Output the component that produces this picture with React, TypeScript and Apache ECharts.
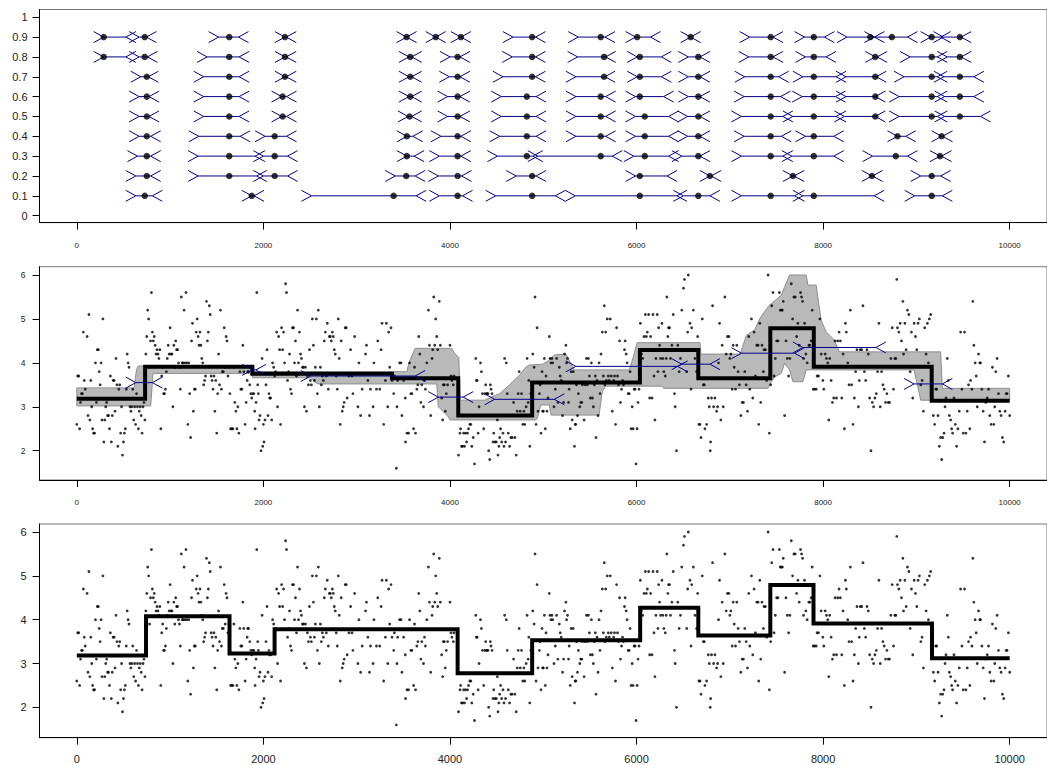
import React, { useEffect, useRef } from "react";
import * as echarts from "echarts";

const X_TICKS = [0, 2000, 4000, 6000, 8000, 10000];
const P_TICKS = [0, 0.1, 0.2, 0.3, 0.4, 0.5, 0.6, 0.7, 0.8, 0.9, 1];
const Y_TICKS = [2, 3, 4, 5, 6];

// Top panel: confidence intervals per probability level, [left, estimate, right]
const ciP90 = [[288,288,526],[668,728,746],[1520,1634,1733],[2231,2231,2245],[3535,3535,3535],[3847,3847,3847],[4117,4117,4117],[4675,4881,4917],[5375,5616,5662],[5990,6007,6150],[6580,6580,6580],[7213,7438,7463],[7801,7900,8014],[8256,8505,8550],[8550,8737,8904],[9153,9164,9260],[9290,9466,9480]];
const ciP80 = [[288,288,526],[668,728,757],[1396,1634,1740],[2231,2231,2245],[3560,3574,3590],[4000,4082,4107],[4668,4881,4917],[5368,5652,5669],[6007,6035,6266],[6555,6662,6680],[7203,7438,7463],[7811,7900,8032],[8559,8559,8580],[8932,9164,9224],[9331,9466,9480]];
const ciP70 = [[686,750,767],[1360,1634,1740],[2231,2231,2245],[3560,3574,3590],[3993,4082,4107],[4568,4881,4917],[5350,5652,5662],[6007,6035,6266],[6555,6662,6680],[7160,7438,7523],[7783,7900,8139],[8246,8559,8570],[8868,9164,9224],[9295,9466,9616]];
const ciP60 = [[668,750,774],[1360,1634,1740],[2195,2206,2248],[3560,3574,3590],[3975,4082,4107],[4550,4824,4923],[5350,5616,5669],[5989,6035,6291],[6555,6662,6680],[7153,7438,7544],[7776,7900,8132],[8246,8559,8560],[8815,9164,9224],[9303,9466,9616]];
const ciP50 = [[668,750,774],[1360,1634,1740],[2195,2206,2248],[3550,3567,3590],[3975,4082,4107],[4550,4824,4923],[5350,5616,5669],[5989,6088,6344],[6548,6662,6680],[7124,7438,7569],[7676,7900,8139],[8228,8559,8560],[8815,9164,9224],[9303,9466,9687]];
const ciP40 = [[668,750,792],[1307,1634,1751],[2018,2121,2248],[3538,3538,3602],[3904,4082,4117],[4533,4824,4923],[5350,5616,5669],[5989,6088,6344],[6548,6662,6680],[7153,7438,7552],[7811,7900,8114],[8797,8797,8886],[9270,9270,9280]];
const ciP30 = [[650,750,792],[1300,1634,1911],[2000,2121,2259],[3538,3538,3616],[3886,4082,4117],[4508,4824,4888],[4941,5616,5740],[5971,6088,6344],[6486,6662,6680],[7124,7438,7569],[7665,7900,8114],[8530,8779,8904],[9253,9253,9270]];
const ciP20 = [[632,750,792],[1300,1634,1929],[2000,2121,2259],[3414,3531,3627],[3876,4082,4124],[4710,4881,4923],[5989,6035,6327],[6786,6786,6800],[7676,7676,7690],[8523,8523,8530],[9046,9164,9260]];
const ciP10 = [[632,728,810],[1875,1875,1900],[2515,3396,3638],[3886,4082,4135],[4490,4881,5130],[5343,6035,6433],[6502,6662,6786],[7124,7438,7694],[7783,7900,8548],[8982,9164,9278]];
const ciLevels = [0.1, 0.2, 0.3, 0.4, 0.5, 0.6, 0.7, 0.8, 0.9];
const ciRows = [ciP10, ciP20, ciP30, ciP40, ciP50, ciP60, ciP70, ciP80, ciP90];

// Middle panel: segmentation, band and change-point intervals [left, right, y]
const midChangePoints = [0, 732, 1882, 3378, 4089, 4881, 6036, 6662, 7434, 7900, 9164, 10000];
const midLevels = [3.18, 3.91, 3.75, 3.65, 2.80, 3.55, 4.29, 3.65, 4.79, 3.91, 3.14];
const midIntervals = [[632,810,3.55],[1880,1920,3.84],[2508,3627,3.70],[3875,4142,3.22],[4479,5119,3.17],[5349,6440,3.92],[6484,6787,3.97],[7125,7694,4.22],[7783,8566,4.35],[8975,9278,3.52]];
const bandUpper = [[0,3.43],[614,3.43],[640,3.85],[660,3.93],[1882,3.93],[1882,3.80],[3538,3.80],[3560,4.0],[3627,4.33],[4018,4.33],[4050,4.22],[4095,4.12],[4110,3.15],[4373,3.15],[4462,3.24],[4533,3.3],[4639,3.5],[4710,3.65],[4746,3.72],[4817,3.91],[4852,3.95],[4994,3.97],[5065,4.06],[5119,4.18],[5243,4.2],[5278,4.06],[5331,3.84],[5918,3.84],[5936,3.92],[6007,4.46],[6680,4.46],[6690,4.2],[7107,4.2],[7125,4.29],[7178,4.63],[7267,4.75],[7321,5.01],[7410,5.28],[7445,5.35],[7552,5.54],[7587,5.73],[7641,6.0],[7819,6.0],[7837,5.77],[7926,5.77],[7943,5.5],[7979,4.97],[8032,4.71],[8068,4.63],[8121,4.52],[8157,4.33],[8175,4.25],[9260,4.25],[9278,3.42],[10000,3.42]];
const bandLower = [[0,3.02],[792,3.02],[805,3.4],[815,3.76],[1882,3.76],[1882,3.66],[2515,3.66],[2550,3.56],[2586,3.52],[3858,3.52],[3875,3.0],[3929,2.89],[3982,2.77],[4000,2.70],[4923,2.70],[4941,2.77],[4959,2.93],[4977,3.04],[5065,3.04],[5083,2.81],[5598,2.81],[5633,3.34],[5669,3.47],[6273,3.47],[6290,3.42],[7410,3.42],[7445,3.57],[7481,3.68],[7552,3.76],[7587,3.99],[7641,3.84],[7676,3.57],[7783,3.57],[7819,3.84],[8975,3.84],[9047,3.15],[10000,3.15]];

// Bottom panel: segmentation
const botChangePoints = [0, 742, 1637, 2120, 4082, 4881, 6039, 6662, 7434, 7897, 9167, 10000];
const botLevels = [3.18, 4.08, 3.23, 3.78, 2.78, 3.53, 4.27, 3.64, 4.79, 3.91, 3.12];

// Observations [position, value]
const obsA = [[0,2.6],[10,3.7],[20,3.7],[30,2.5],[40,3.1],[50,3.3],[60,3.3],[70,4.7],[80,3.6],[90,3.4],[110,4.6],[120,2.8],[130,5.1],[140,2.7],[150,3.6],[160,3.0],[170,2.5],[180,2.4],[190,2.4],[200,4.0],[210,3.1],[220,4.3],[230,4.3],[240,3.8],[250,3.5],[260,4.0],[270,2.7],[280,5.0],[290,2.2],[300,2.7],[310,3.0],[320,3.1],[330,2.8],[340,2.8],[350,2.5],[360,3.7],[370,2.2],[380,2.8],[390,3.6],[400,3.6],[410,2.9],[420,4.1],[430,3.5],[440,2.1],[450,3.4],[460,3.5],[470,2.4],[480,3.0],[490,1.9],[500,2.2],[510,2.4],[520,2.5],[530,3.4],[540,4.2],[550,4.0],[560,3.9],[570,3.0],[580,2.9],[590,3.0],[600,3.4],[610,2.7],[620,3.0],[630,2.6],[640,3.3],[650,3.0],[660,2.5],[670,2.9],[680,3.0],[690,2.8],[700,2.4],[710,3.0],[720,3.1],[730,2.7],[740,4.2],[750,4.6],[760,5.2],[770,5.0],[780,3.9],[790,4.5],[800,5.6],[810,4.7],[820,4.5],[830,4.6],[840,4.4],[850,4.2],[860,4.3],[870,4.2],[880,4.1],[890,4.3],[900,2.5],[910,3.7],[920,3.9],[930,3.3],[940,3.3],[950,3.4],[960,3.8],[970,4.1],[980,4.4],[990,4.2],[1000,4.8],[1010,4.2],[1020,4.2],[1030,3.0],[1040,4.4],[1050,3.9],[1060,4.5],[1070,4.3],[1080,4.3],[1090,4.0],[1100,3.9],[1110,3.4],[1120,5.5],[1130,4.0],[1140,4.0],[1150,5.2],[1160,4.0],[1170,5.6],[1180,4.0],[1190,2.6],[1200,4.0],[1210,3.3],[1220,2.3],[1230,4.5],[1240,4.9],[1250,2.9],[1260,3.4],[1270,3.4],[1280,4.7],[1290,5.0],[1300,4.6],[1310,4.4],[1320,4.7],[1330,4.4],[1340,4.1],[1350,4.0],[1360,3.5],[1370,3.6],[1380,3.7],[1390,5.4],[1400,4.5],[1410,4.7],[1420,5.3],[1430,5.1],[1440,3.7],[1450,3.6],[1460,3.4],[1470,3.7],[1480,2.9],[1490,3.6],[1500,2.4],[1510,3.3],[1520,4.2],[1530,3.5],[1540,5.2],[1550,3.4],[1560,3.8],[1570,3.8],[1580,4.8],[1590,3.9],[1600,4.6],[1610,4.5],[1620,3.7],[1630,3.9]];
const obsB = [[1641,3.3],[1648,2.5],[1662,2.5],[1673,2.5],[1684,3.9],[1694,3.1],[1705,2.9],[1716,2.5],[1726,3.0],[1737,2.4],[1748,3.8],[1758,3.4],[1769,3.4],[1780,4.4],[1790,3.8],[1804,2.6],[1815,3.1],[1826,3.6],[1833,3.8],[1840,3.8],[1854,3.5],[1865,3.3],[1875,3.2],[1886,3.3],[1897,3.3],[1907,2.9],[1911,2.5],[1922,3.1],[1929,5.6],[1939,3.5],[1946,3.3],[1954,2.7],[1964,2.8],[1975,2.0],[1986,4.1],[1993,2.1],[2000,2.6],[2007,2.2],[2017,2.7],[2028,3.5],[2039,4.3],[2050,2.8],[2060,3.3],[2067,3.2],[2078,3.2],[2089,2.7],[2099,4.0],[2110,3.9],[2121,3.7],[2131,3.8],[2142,4.7],[2152,3.0],[2163,4.6],[2174,4.3],[2184,2.6],[2195,4.8],[2206,4.3],[2216,4.7],[2227,4.0],[2238,5.8],[2248,5.6],[2259,3.6],[2270,3.8],[2280,4.2],[2291,3.4],[2302,3.3],[2312,4.8],[2323,4.8],[2334,4.0],[2344,4.5],[2355,3.7],[2366,5.2],[2376,4.0],[2387,4.7],[2398,4.2],[2408,4.1],[2419,3.9],[2430,3.9],[2440,3.0],[2451,3.9],[2462,2.9],[2472,3.7],[2483,3.5],[2494,4.3],[2504,3.6],[2515,3.5],[2525,5.0],[2536,4.4],[2547,3.6],[2557,3.9],[2568,5.0],[2579,3.3],[2589,5.2],[2600,3.0],[2611,3.9],[2621,3.5],[2632,3.7],[2643,3.6],[2653,4.5],[2664,4.7],[2675,3.7],[2685,4.9],[2696,3.4],[2707,4.6],[2717,4.6],[2728,4.5],[2739,4.7],[2749,4.6],[2760,4.3],[2771,4.2],[2781,3.7],[2792,3.4],[2803,5.0],[2813,4.1],[2824,2.6],[2834,4.5],[2845,2.9],[2856,3.0],[2866,3.1],[2877,4.8],[2888,4.8],[2898,3.2]];
const obsC = [[2917,3.7],[2935,4.3],[2950,3.7],[2960,3.3],[2978,4.6],[3013,3.0],[3024,4.0],[3042,2.8],[3059,3.4],[3095,4.2],[3105,4.4],[3120,3.6],[3137,2.8],[3148,3.4],[3176,3.0],[3185,4.0],[3212,3.4],[3226,4.5],[3247,3.4],[3262,4.3],[3272,4.9],[3290,2.6],[3308,3.6],[3318,4.9],[3333,3.0],[3343,4.7],[3354,3.9],[3368,4.8],[3379,3.6],[3397,3.3],[3404,3.7],[3425,1.6],[3432,3.0],[3439,3.6],[3460,4.0],[3475,4.0],[3485,2.8],[3503,3.6],[3521,3.2],[3524,2.2],[3539,2.4],[3556,2.4],[3567,4.0],[3581,3.3],[3592,3.3],[3610,2.5],[3620,3.9],[3631,2.4],[3645,3.4],[3656,3.5],[3666,4.6],[3677,4.2],[3688,3.1],[3698,3.5],[3716,3.0],[3727,3.6],[3737,3.4],[3752,4.0],[3769,5.2],[3780,4.4],[3794,2.8],[3808,4.1],[3815,4.3],[3826,5.5],[3837,4.4],[3847,5.0],[3858,4.6],[3869,4.3],[3886,5.4],[3897,4.4],[3911,3.2],[3922,2.7],[3929,3.5],[3940,3.5],[3950,2.9],[3961,3.3],[3975,3.5],[4000,4.4],[4011,3.7],[4021,3.6],[4036,3.5],[4043,3.7],[4092,1.9],[4107,2.4],[4114,2.5],[4124,2.1],[4135,2.1],[4146,2.4],[4156,2.1],[4167,2.4],[4178,2.2],[4188,2.4],[4199,2.5],[4213,2.6],[4224,2.6],[4234,2.1],[4249,2.3],[4263,1.7],[4277,4.1],[4284,3.6],[4291,3.6],[4302,2.4],[4312,3.0],[4327,4.0],[4337,3.8],[4348,3.3],[4362,2.5],[4373,3.3],[4383,3.5],[4391,3.3],[4398,3.3],[4408,3.3],[4415,2.0],[4426,1.8],[4433,3.5],[4440,3.4],[4451,3.3],[4462,2.2],[4469,2.4],[4483,2.2],[4497,2.2],[4508,2.7],[4515,1.9],[4525,2.1],[4533,2.3],[4543,2.5],[4554,2.2],[4568,2.4],[4579,2.1],[4586,4.1],[4596,2.2],[4604,4.0],[4614,3.3],[4625,2.4],[4639,2.1],[4653,2.3],[4667,2.3],[4682,3.1],[4696,2.3],[4710,1.9],[4721,2.9],[4731,3.3],[4742,3.8],[4753,2.9],[4767,3.3],[4781,2.6],[4792,2.9],[4802,2.6],[4817,3.0],[4827,4.1],[4838,3.1],[4845,3.6],[4856,2.1],[4866,3.3],[4888,4.2],[4902,3.9],[4912,5.5],[4923,2.6],[4934,4.8],[4944,2.9],[4959,3.3],[4966,3.5],[4976,2.4],[4987,3.8],[4994,2.9],[5001,2.9],[5012,4.1],[5022,2.5],[5030,3.7],[5040,2.9],[5051,3.2],[5065,4.6],[5072,4.1],[5083,4.0],[5093,4.1],[5101,4.0],[5115,3.0],[5129,3.4],[5143,4.1],[5157,3.1],[5172,3.9],[5182,3.7],[5193,3.6],[5207,2.8],[5218,3.1],[5228,4.2],[5243,4.4],[5250,4.0],[5260,4.1],[5271,3.1],[5278,3.4],[5289,2.5],[5299,3.8],[5310,2.7],[5321,3.8],[5335,2.1],[5342,2.6],[5349,2.6],[5356,3.5],[5367,2.8],[5377,3.3],[5392,3.0],[5402,3.1],[5413,3.1],[5420,3.5],[5438,2.7],[5448,3.5],[5463,4.1],[5473,3.5],[5484,4.1],[5495,3.7],[5505,3.2],[5516,4.0],[5527,3.2],[5537,3.0],[5548,3.5],[5558,3.7],[5566,2.3],[5576,3.6],[5587,2.8],[5598,4.0],[5608,3.3],[5619,4.2],[5633,4.7],[5644,3.7],[5654,5.3],[5661,3.5],[5669,4.7],[5676,3.6],[5686,5.0],[5697,3.7],[5708,3.6],[5718,5.0],[5729,3.7],[5740,2.9],[5754,3.6],[5764,3.7],[5775,2.6],[5786,4.8],[5796,3.7],[5807,3.5],[5818,4.5],[5828,3.1],[5839,3.4],[5850,3.6],[5860,3.5],[5871,4.3],[5878,4.5],[5889,4.2],[5899,4.0],[5910,3.3],[5921,3.3],[5931,3.8],[5942,2.5],[5953,3.0],[5963,2.5],[5974,3.4],[5985,3.4],[5995,1.7],[6006,2.5],[6016,3.1],[6027,3.4],[6041,4.9],[6052,4.2],[6066,4.1],[6080,4.6],[6095,5.1],[6105,4.6],[6116,4.7],[6130,5.1],[6141,3.2],[6151,4.6],[6166,3.2],[6176,5.1],[6187,3.7],[6197,2.7],[6208,4.1],[6222,5.1],[6229,3.8],[6237,4.8],[6247,4.4],[6258,4.1],[6272,4.9],[6283,4.1],[6293,3.8],[6308,3.7],[6318,4.1],[6325,5.5],[6336,4.6],[6343,4.8],[6354,4.8],[6364,4.1],[6379,4.4],[6393,5.1],[6407,3.3],[6414,3.0],[6428,2.0],[6442,4.4],[6457,3.8],[6471,4.1],[6485,5.2],[6503,5.7],[6514,5.9]];
const obsD = [[6538,3.8],[6548,4.7],[6555,6.0],[6573,4.9],[6584,3.4],[6591,4.8],[6609,5.2],[6627,4.1],[6644,3.8],[6655,4.6],[6669,2.6],[6680,2.6],[6691,2.3],[6705,5.0],[6716,3.5],[6726,3.5],[6733,2.5],[6751,2.6],[6769,3.2],[6780,3.0],[6790,2.0],[6794,2.2],[6804,3.2],[6815,5.3],[6826,3.0],[6840,3.2],[6858,2.9],[6869,3.0],[6879,4.0],[6890,4.9],[6904,2.7],[6918,4.4],[6929,3.0],[6947,5.5],[6961,4.2],[6975,4.6],[6990,4.6],[7000,4.1],[7011,4.2],[7025,3.4],[7036,4.4],[7047,3.9],[7061,3.4],[7075,4.4],[7089,3.8],[7103,3.5],[7118,2.8],[7132,3.1],[7146,3.1],[7160,3.8],[7175,3.5],[7189,2.9],[7203,4.6],[7214,3.4],[7232,5.0],[7246,3.2],[7260,4.7],[7274,3.7],[7289,4.4],[7303,4.4],[7310,2.6],[7321,4.9],[7331,3.1],[7345,4.4],[7360,3.8],[7367,4.3],[7381,4.3],[7395,3.6],[7410,6.0],[7424,2.4],[7438,3.5],[7449,5.3],[7463,5.6],[7474,3.7],[7488,4.1],[7502,4.5],[7516,4.5],[7531,5.6],[7541,5.2],[7552,5.2],[7563,5.2],[7573,5.4],[7587,2.8],[7602,4.5],[7616,4.1],[7630,3.7],[7644,4.1],[7659,5.8],[7673,5.0],[7687,5.5],[7701,5.5],[7716,4.6],[7730,4.9],[7744,4.4],[7758,5.6],[7769,5.5],[7780,5.4],[7790,4.1],[7801,4.9],[7815,4.2],[7829,4.0],[7847,4.4],[7858,4.4],[7872,4.5],[7883,5.2],[7894,3.4],[7908,3.4],[7926,3.4],[7936,3.7],[7950,3.7],[7965,5.0],[7979,4.2],[7997,3.6],[8007,3.4],[8022,4.2],[8036,4.1],[8050,4.0],[8061,2.7],[8071,4.1],[8086,3.6],[8100,3.1],[8114,3.2],[8128,4.5],[8143,3.2],[8157,4.5],[8171,4.7],[8185,4.5],[8200,3.2],[8214,4.2],[8228,2.5],[8239,4.9],[8249,4.7],[8264,4.0],[8278,3.5],[8292,5.2],[8306,3.5],[8321,2.6],[8335,3.2],[8349,3.8],[8363,4.3],[8378,3.0],[8388,3.6],[8399,4.3],[8413,4.3],[8427,5.3],[8442,3.8],[8456,3.6],[8470,4.3],[8484,4.2],[8499,3.2],[8513,2.0],[8527,3.1],[8541,3.0],[8555,3.2],[8570,3.3],[8584,3.8],[8598,4.9],[8612,3.0],[8627,3.8],[8641,3.5],[8655,3.4],[8669,3.1],[8684,3.3],[8698,3.1],[8712,3.1],[8726,4.1],[8741,4.8],[8755,3.4],[8769,4.1],[8780,4.1],[8790,5.9],[8797,4.8],[8812,4.7],[8826,4.9],[8840,4.5],[8855,5.4],[8862,4.2],[8876,4.9],[8890,4.3],[8904,5.2],[8919,5.1],[8933,3.8],[8947,4.7],[8961,3.2],[8976,4.9],[8990,4.6],[9004,4.3],[9018,4.9],[9032,5.0],[9047,3.5],[9061,3.6],[9075,2.9],[9089,4.8],[9104,4.2],[9118,4.9],[9129,4.0],[9139,5.0],[9153,5.1],[9168,3.2],[9182,2.8],[9196,2.6],[9207,3.4],[9217,3.4],[9232,2.8],[9246,2.1],[9260,2.3],[9271,1.8],[9282,2.3],[9296,2.4],[9307,3.0],[9317,3.2],[9331,4.1],[9342,3.6],[9353,2.8],[9367,2.7],[9378,2.5],[9388,2.4],[9403,3.2],[9417,2.6],[9431,2.1],[9445,2.5],[9460,2.9],[9474,4.7],[9488,3.4],[9502,2.4],[9516,4.7],[9531,2.4],[9545,2.9],[9559,3.5],[9573,2.5],[9580,3.6],[9595,3.4],[9605,5.4],[9616,4.4],[9630,4.0],[9641,3.7],[9652,3.0],[9666,4.2],[9680,4.0],[9687,4.0],[9702,3.4],[9716,2.9],[9730,2.2],[9744,3.1],[9759,3.2],[9773,3.4],[9787,2.8],[9801,2.6],[9815,3.9],[9830,2.6],[9840,3.0],[9851,3.8],[9865,4.1],[9880,3.3],[9894,2.9],[9908,2.8],[9922,2.3],[9936,2.2],[9951,2.9],[9962,3.3],[9972,3.3],[9986,3.7],[10000,2.8]];

const BLUE = "#00008b";
const FONT = "'Liberation Sans', Arial, Helvetica, sans-serif";
const LABEL_COLOR = "#222";

function stepPath(cps: number[], levels: number[]) {
  const out: number[][] = [];
  for (let i = 0; i < levels.length; i++) {
    out.push([cps[i], levels[i]]);
    out.push([cps[i + 1], levels[i]]);
  }
  return out;
}

function intervalRender(params: any, api: any) {
  const L = api.value(0);
  const R = api.value(1);
  const y = api.value(2);
  const a = api.coord([L, y]);
  const b = api.coord([R, y]);
  const w = 10;
  const h = 5.5;
  const style = { stroke: BLUE, lineWidth: 1, fill: null };
  return {
    type: "group",
    children: [
      { type: "line", shape: { x1: a[0], y1: a[1], x2: b[0], y2: b[1] }, style },
      { type: "polyline", shape: { points: [[a[0] - w, a[1] - h], [a[0], a[1]], [a[0] - w, a[1] + h]] }, style },
      { type: "polyline", shape: { points: [[b[0] + w, b[1] - h], [b[0], b[1]], [b[0] + w, b[1] + h]] }, style },
    ],
  };
}

function xAxisCfg(gridIndex: number, fontSize: number, margin: number) {
  return {
    type: "value",
    gridIndex,
    min: -400,
    max: 10400,
    axisLine: { show: true, onZero: false, lineStyle: { color: "#000", width: 1 } },
    axisTick: { show: true, customValues: X_TICKS, length: 7, lineStyle: { color: "#000" } },
    axisLabel: {
      customValues: X_TICKS,
      fontSize,
      color: LABEL_COLOR,
      margin,
      fontFamily: FONT,
      formatter: (v: number) => String(Math.round(v)),
    },
    splitLine: { show: false },
  };
}

function yAxisCfg(gridIndex: number, min: number, max: number, ticks: number[], fontSize: number, margin: number, fmt: (v: number) => string) {
  return {
    type: "value",
    gridIndex,
    min,
    max,
    axisLine: { show: true, onZero: false, lineStyle: { color: "#000", width: 1 } },
    axisTick: { show: true, customValues: ticks, length: 7, lineStyle: { color: "#000" } },
    axisLabel: { customValues: ticks, fontSize, color: LABEL_COLOR, margin, fontFamily: FONT, formatter: fmt },
    splitLine: { show: false },
  };
}

export default function App() {
  const ref = useRef<HTMLDivElement>(null);
  useEffect(() => {
    if (!ref.current) return;
    const chart = echarts.init(ref.current, undefined, { renderer: "svg" });
    const obs = [...obsA, ...obsB, ...obsC, ...obsD];
    const topIntervals: number[][] = [];
    const topDots: number[][] = [];
    ciRows.forEach((rows, i) => {
      rows.forEach(([L, d, R]) => {
        topIntervals.push([L, R, ciLevels[i]]);
        topDots.push([d, ciLevels[i]]);
      });
    });
    const gridBase = { left: 39.5, width: 1013.6, show: true, borderColor: "#777", borderWidth: 1, backgroundColor: "transparent" };
    const intFmt = (v: number) => String(Math.round(v));
    chart.setOption({
      animation: false,
      grid: [
        { ...gridBase, top: 9.5, height: 213.1 },
        { ...gridBase, top: 266.7, height: 213.3 },
        { ...gridBase, top: 524, height: 213.7 },
      ],
      xAxis: [xAxisCfg(0, 8, 19), xAxisCfg(1, 8, 18), xAxisCfg(2, 11, 16)],
      yAxis: [
        yAxisCfg(0, -0.035, 1.039, P_TICKS, 11, 12, (v: number) => (Math.abs(v) < 1e-9 ? "0" : Math.abs(v - 1) < 1e-9 ? "1" : v.toFixed(1))),
        yAxisCfg(1, 1.333, 6.189, Y_TICKS, 8.5, 14, intFmt),
        yAxisCfg(2, 1.307, 6.183, Y_TICKS, 11, 13, intFmt),
      ],
      series: [
        {
          type: "custom",
          xAxisIndex: 0,
          yAxisIndex: 0,
          renderItem: intervalRender,
          encode: { x: [0, 1], y: 2 },
          data: topIntervals,
          z: 3,
          silent: true,
        },
        {
          type: "scatter",
          xAxisIndex: 0,
          yAxisIndex: 0,
          data: topDots,
          symbol: "circle",
          symbolSize: 6.5,
          itemStyle: { color: "#000" },
          z: 4,
          silent: true,
        },
        {
          type: "custom",
          xAxisIndex: 1,
          yAxisIndex: 1,
          encode: { x: 0, y: 1 },
          data: [[5000, 4]],
          z: 1,
          silent: true,
          renderItem: (params: any, api: any) => {
            const pts = [
              ...bandUpper.map((p) => api.coord(p)),
              ...bandLower.slice().reverse().map((p) => api.coord(p)),
            ];
            return { type: "polygon", shape: { points: pts }, style: { fill: "#b9b9b9", stroke: "#8f8f8f", lineWidth: 1 } };
          },
        },
        {
          type: "scatter",
          xAxisIndex: 1,
          yAxisIndex: 1,
          data: obs,
          symbol: "circle",
          symbolSize: 2.8,
          itemStyle: { color: "#000" },
          z: 2,
          silent: true,
        },
        {
          type: "line",
          xAxisIndex: 1,
          yAxisIndex: 1,
          data: stepPath(midChangePoints, midLevels),
          showSymbol: false,
          symbol: "none",
          lineStyle: { color: "#000", width: 4, join: "miter", cap: "butt" },
          z: 3,
          silent: true,
        },
        {
          type: "custom",
          xAxisIndex: 1,
          yAxisIndex: 1,
          renderItem: intervalRender,
          encode: { x: [0, 1], y: 2 },
          data: midIntervals,
          z: 4,
          silent: true,
        },
        {
          type: "scatter",
          xAxisIndex: 2,
          yAxisIndex: 2,
          data: obs,
          symbol: "circle",
          symbolSize: 2.8,
          itemStyle: { color: "#000" },
          z: 2,
          silent: true,
        },
        {
          type: "line",
          xAxisIndex: 2,
          yAxisIndex: 2,
          data: stepPath(botChangePoints, botLevels),
          showSymbol: false,
          symbol: "none",
          lineStyle: { color: "#000", width: 4, join: "miter", cap: "butt" },
          z: 3,
          silent: true,
        },
      ],
    });
    return () => chart.dispose();
  }, []);
  return <div ref={ref} style={{ position: "fixed", left: 0, top: 0, width: 1047, height: 765, background: "#fff" }} />;
}
